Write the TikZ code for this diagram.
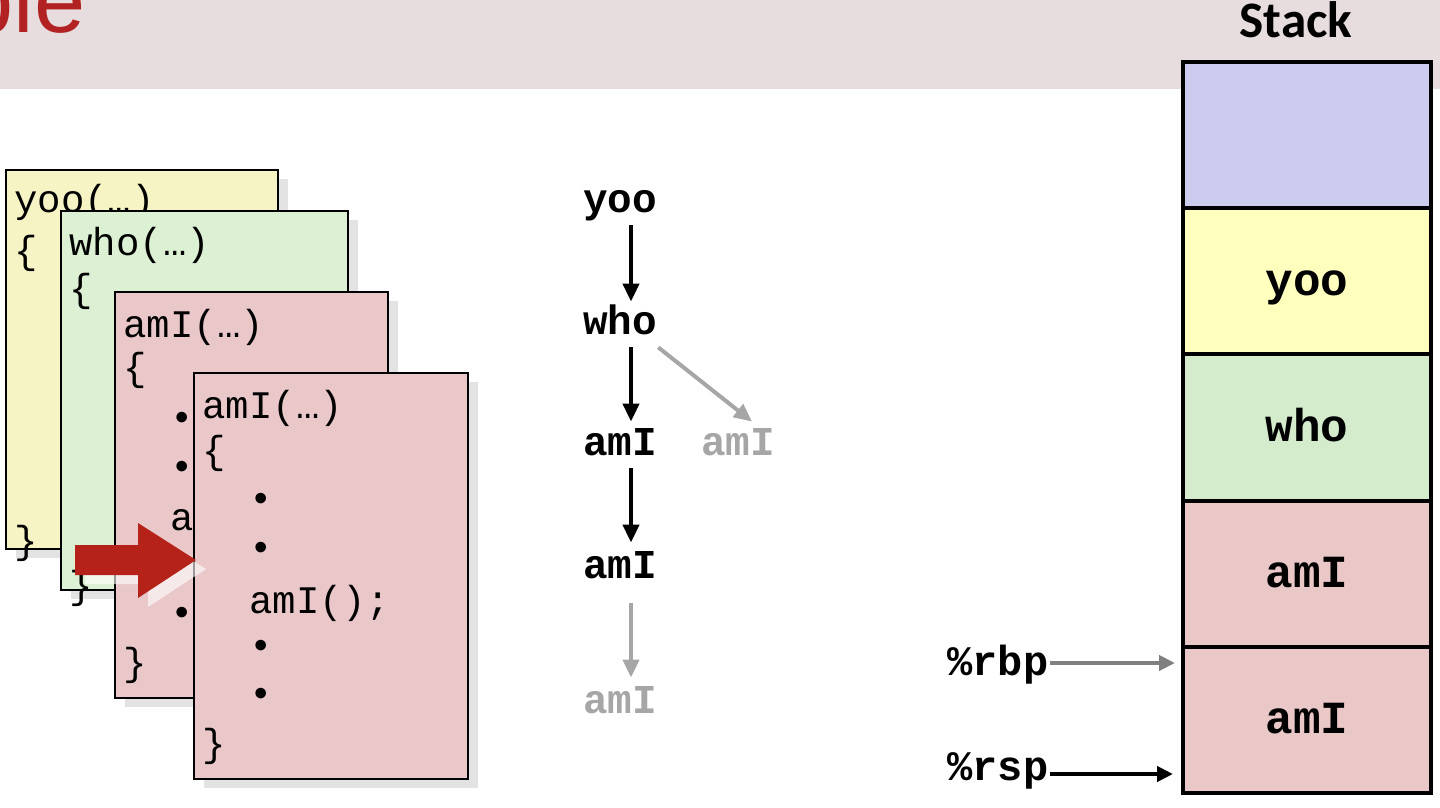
\documentclass[tikz,border=0pt]{standalone}
\usepackage{fontspec}
\setmainfont{Liberation Sans}
\newfontfamily\codefont{Liberation Mono}
\newfontfamily\calfont{Carlito}
\usetikzlibrary{arrows.meta,shadows}

\definecolor{bandpink}{RGB}{232,221,222}
\definecolor{titlered}{RGB}{178,34,34}
\definecolor{cardyellow}{RGB}{246,244,196}
\definecolor{cardgreen}{RGB}{220,240,212}
\definecolor{cardpink}{RGB}{234,200,201}
\definecolor{stackblue}{RGB}{204,204,238}
\definecolor{stackyellow}{RGB}{255,255,190}
\definecolor{stackgreen}{RGB}{212,236,204}
\definecolor{stackpink}{RGB}{234,200,200}
\definecolor{arrowred}{RGB}{180,34,26}
\definecolor{treegray}{RGB}{166,166,166}
\definecolor{reggray}{RGB}{128,128,128}

\begin{document}
\begin{tikzpicture}[x=0.5pt,y=-0.5pt,
  card/.style={draw=black, line width=1pt, inner sep=0, outer sep=0, anchor=north west,
    drop shadow={shadow xshift=5pt, shadow yshift=-4.5pt, fill=black!11, opacity=1}},
  codetxt/.style={font=\codefont\fontsize{19.5}{22}\selectfont, anchor=base west, inner sep=0},
  treelbl/.style={font=\codefont\bfseries\fontsize{20.5}{24}\selectfont, inner sep=0,
    text height=12pt, text depth=4pt, anchor=base},
  reglbl/.style={font=\codefont\bfseries\fontsize{21}{24}\selectfont, inner sep=0,
    text height=14pt, text depth=2pt, anchor=base west},
  cell/.style={draw=black, line width=2pt, minimum width=124pt, minimum height=73.1pt,
    inner sep=0, font=\codefont\bfseries\fontsize{23}{26}\selectfont,
    text height=16pt, text depth=2pt},
  arr/.style={line width=2pt, -{Triangle[length=9pt,width=8pt]}},
  garr/.style={arr, draw=treegray},
  regarr/.style={line width=2pt, -{Triangle[length=8pt,width=7.5pt]}}
]
\useasboundingbox (0,0) rectangle (1440,808);
\clip (0,0) rectangle (1440,808);

% title band
\fill[bandpink] (0,0) rectangle (1440,89);
\node[font=\fontsize{46}{50}\selectfont, text=titlered, anchor=base east, inner sep=0] (title) at (86,33) {ple};

% card 1: yoo
\node[card, fill=cardyellow, minimum width=136pt, minimum height=189.5pt] (yooc) at (6,170) {};
\node[codetxt] (y1) at (14,213) {yoo(…)};
\node[codetxt] (y2) at (14,263) {\{};
\node[codetxt] (y3) at (14,553) {\}};

% card 2: who
\node[card, fill=cardgreen, minimum width=143.5pt, minimum height=189.5pt] (whoc) at (61,211) {};
\node[codetxt] (w1) at (69,255) {who(…)};
\node[codetxt] (w2) at (69,301) {\{};
\node[codetxt] (w3) at (69,598) {\}};

% card 3: amI
\node[card, fill=cardpink, minimum width=136.5pt, minimum height=203pt] (amc1) at (115,292) {};
\node[codetxt] (a1) at (123,337) {amI(…)};
\node[codetxt] (a2) at (123,380) {\{};
\node[codetxt] (a3) at (169.8,430) {•};
\node[codetxt] (a4) at (169.8,479) {•};
\node[codetxt] (a5) at (169.8,530) {amI();};
\node[codetxt] (a6) at (169.8,625) {•};
\node[codetxt] (a7) at (123,675) {\}};

% card 4: amI
\node[card, fill=cardpink, minimum width=137pt, minimum height=203pt] (amc2) at (194,373) {};
\node[codetxt] (b1) at (202,418) {amI(…)};
\node[codetxt] (b2) at (202,463) {\{};
\node[codetxt] (b3) at (248.8,511) {•};
\node[codetxt] (b4) at (248.8,560) {•};
\node[codetxt] (b5) at (248.8,613) {amI();};
\node[codetxt] (b6) at (248.8,658) {•};
\node[codetxt] (b7) at (248.8,706) {•};
\node[codetxt] (b8) at (202,756) {\}};

% red arrow with its shadow
\fill[white, opacity=0.6] (85,554) -- (148,554) -- (148,532) -- (206,569) -- (148,607) -- (148,584) -- (85,584) -- cycle;
\fill[arrowred] (75,545) -- (138,545) -- (138,523) -- (196,560) -- (138,598) -- (138,575) -- (75,575) -- cycle;

% call tree
\node[treelbl] (t1) at (620,213) {yoo};
\node[treelbl] (t2) at (620,334) {who};
\node[treelbl] (t3) at (620,455) {amI};
\node[treelbl, text=treegray] (g1) at (738,455) {amI};
\node[treelbl] (t4) at (620,578) {amI};
\node[treelbl, text=treegray] (g2) at (620,713) {amI};
\draw[arr] ([shift={(11,4)}]t1.south) -- ([shift={(11,-8)}]t2.north);
\draw[arr] ([shift={(11,5)}]t2.south) -- ([shift={(11,-9)}]t3.north);
\draw[garr] ([shift={(1,5)}]t2.south east) -- ([shift={(14,-9)}]g1.north);
\draw[arr] ([shift={(11,5)}]t3.south) -- ([shift={(11,-11)}]t4.north);
\draw[garr] ([shift={(11,17)}]t4.south) -- ([shift={(11,-11)}]g2.north);

% stack
\node[font=\calfont\bfseries\fontsize{25.6}{30}\selectfont, anchor=base, inner sep=0] (stk) at (1296,38) {Stack};
\node[cell, fill=stackblue] (s1) at (1307,135.1) {};
\node[cell, fill=stackyellow] (s2) at (1307,281.3) {yoo};
\node[cell, fill=stackgreen] (s3) at (1307,427.5) {who};
\node[cell, fill=stackpink] (s4) at (1307,573.7) {amI};
\node[cell, fill=stackpink] (s5) at (1307,719.9) {amI};

% registers
\node[reglbl] (rbp) at (947,675) {\%rbp};
\node[reglbl] (rsp) at (947,780) {\%rsp};
\coordinate (rbpstart) at ([xshift=0.5pt]rbp.east);
\coordinate (rspstart) at ([shift={(1,6)}]rsp.east);
\draw[regarr, draw=reggray] (rbpstart) -- ([xshift=-3pt]rbpstart -| s5.west);
\draw[regarr] (rspstart) -- ([xshift=-4pt]rspstart -| s5.west);
\end{tikzpicture}
\end{document}
